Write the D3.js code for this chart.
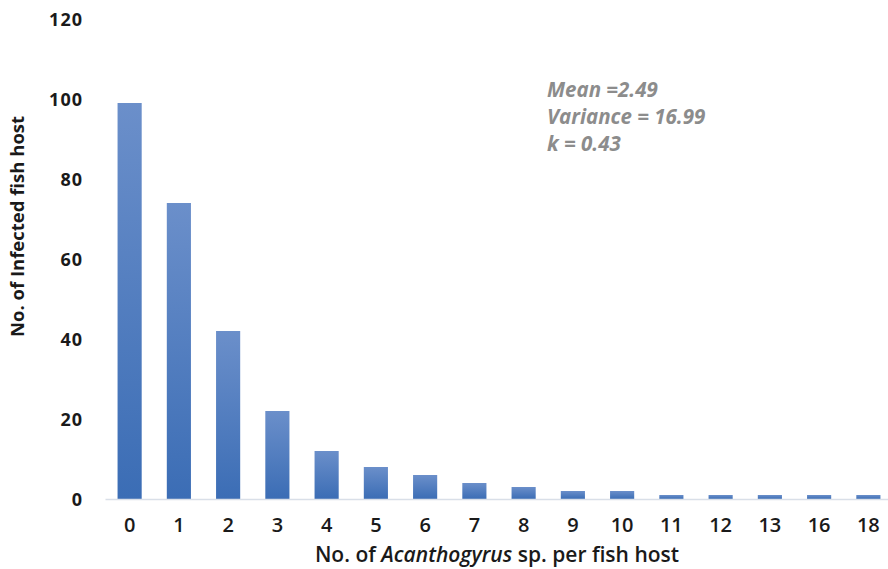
<!DOCTYPE html>
<html>
<head>
<meta charset="utf-8">
<script src="https://cdn.jsdelivr.net/npm/d3@7"></script>
<style>
  html, body { margin: 0; padding: 0; background: #fff; }
  svg { display: block; }
</style>
</head>
<body>
<svg id="chart" width="888" height="569"></svg>
<script>
const categories = ["0","1","2","3","4","5","6","7","8","9","10","11","12","13","16","18"];
const values = [99, 74, 42, 22, 12, 8, 6, 4, 3, 2, 2, 1, 1, 1, 1, 1];
const yTicks = [0, 20, 40, 60, 80, 100, 120];
const statsLines = ["Mean =2.49", "Variance = 16.99", "k = 0.43"];

const svg = d3.select("#chart");
const x0 = 105, x1 = 893, yBase = 499, yTop = 19;

const x = d3.scaleBand().domain(categories).range([x0, x1]).paddingInner(0.51).paddingOuter(0.255);
const y = d3.scaleLinear().domain([0, 120]).range([yBase, yTop]);

const defs = svg.append("defs");
const grad = defs.append("linearGradient").attr("id", "barGrad")
  .attr("x1", 0).attr("y1", 0).attr("x2", 0).attr("y2", 1);
grad.append("stop").attr("offset", "0%").attr("stop-color", "#6b8fca");
grad.append("stop").attr("offset", "100%").attr("stop-color", "#3b6db5");

// bars
svg.append("g").selectAll("rect").data(values).join("rect")
  .attr("x", (d, i) => x(categories[i]))
  .attr("y", d => y(d))
  .attr("width", x.bandwidth())
  .attr("height", d => y(0) - y(d))
  .attr("fill", "url(#barGrad)");

// x axis line + labels
const xAxis = d3.axisBottom(x).tickSize(0).tickPadding(19);
const gx = svg.append("g").attr("transform", `translate(0,${yBase})`).call(xAxis);
gx.select(".domain").attr("stroke", "#d9dfe8").attr("stroke-width", 1.5);
gx.selectAll("text")
  .attr("fill", "#1a1a1a")
  .style("font-family", "'Open Sans', sans-serif")
  .style("font-size", "20px")
  .style("font-weight", "600");

// y axis labels (no line)
const yAxis = d3.axisLeft(y).tickValues(yTicks).tickSize(0).tickPadding(0);
const gy = svg.append("g").attr("transform", `translate(83,0)`).call(yAxis);
gy.select(".domain").remove();
gy.selectAll("text")
  .attr("fill", "#1a1a1a")
  .attr("dy", "0.35em")
  .style("font-family", "'Open Sans', sans-serif")
  .style("font-size", "18px")
  .style("font-weight", "700")
  .style("letter-spacing", "1px");

// y axis title
svg.append("text")
  .attr("transform", `translate(24,${(115 + 338) / 2}) rotate(-90)`)
  .attr("text-anchor", "middle")
  .attr("fill", "#1a1a1a")
  .style("font-family", "'Open Sans', sans-serif")
  .style("font-size", "18.5px")
  .style("font-weight", "700")
  .text("No. of Infected fish host");

// x axis title
const xt = svg.append("text")
  .attr("x", (x0 + x1) / 2 - 2)
  .attr("y", 562)
  .attr("text-anchor", "middle")
  .attr("fill", "#1a1a1a")
  .style("font-family", "'Open Sans', sans-serif")
  .style("font-size", "21px")
  .style("font-weight", "600");
xt.append("tspan").text("No. of ");
xt.append("tspan").style("font-style", "italic").text("Acanthogyrus");
xt.append("tspan").text(" sp. per fish host");

// stats annotation
svg.append("g").selectAll("text").data(statsLines).join("text")
  .attr("x", 547)
  .attr("y", (d, i) => 97 + i * 27)
  .attr("fill", "#8c8c8c")
  .style("font-family", "'Open Sans', sans-serif")
  .style("font-size", "20.5px")
  .style("font-weight", "700")
  .style("font-style", "italic")
  .text(d => d);
</script>
</body>
</html>
